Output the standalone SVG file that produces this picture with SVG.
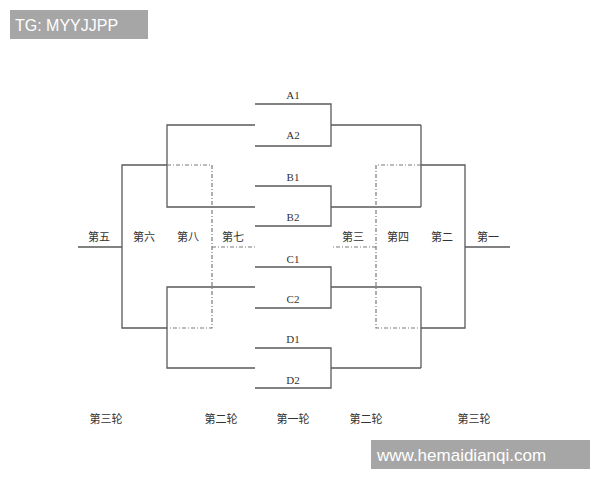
<svg xmlns="http://www.w3.org/2000/svg" width="600" height="480" viewBox="0 0 600 480">
<style>
.s{stroke:#5a5a5a;stroke-width:1.3;fill:none}
.d{stroke:#7a7a7a;stroke-width:1.2;fill:none;stroke-dasharray:4,2,1,2}
.t{font-family:"Liberation Serif","Noto Sans CJK SC",serif;font-size:11px;fill:#333;text-anchor:middle}
.c{font-family:"Noto Sans CJK SC","Liberation Serif",sans-serif;font-size:11px;fill:#333;text-anchor:middle}
.w{font-family:"Liberation Sans",Arial,sans-serif;fill:#fff}
</style>
<rect width="600" height="480" fill="#fff"/>
<g id="connectors">
<!-- first round brackets -->
<path class="s" d="M255,104H331V146H255M331,125H421"/>
<path class="s" d="M255,186H331V226H255M331,207H421"/>
<path class="s" d="M255,267H331V308H255M331,287H421"/>
<path class="s" d="M255,348H331V388H255M331,368H421"/>
<!-- left side -->
<path class="s" d="M255,125H167V207H255"/>
<path class="s" d="M255,287H167V368H255"/>
<path class="s" d="M167,165H122V328H167M122,247H78"/>
<path class="d" d="M167,165H212V328H167M212,247H255"/>
<!-- right side -->
<path class="s" d="M421,125V207M421,287V368"/>
<path class="s" d="M421,165H465V328H421M465,247H510"/>
<path class="d" d="M421,165H376V328H421M376,247H332"/>
</g>
<g id="team-labels">
<text class="t" x="293" y="99">A1</text>
<text class="t" x="293" y="139">A2</text>
<text class="t" x="293" y="181">B1</text>
<text class="t" x="293" y="221">B2</text>
<text class="t" x="293" y="263">C1</text>
<text class="t" x="293" y="303">C2</text>
<text class="t" x="293" y="343">D1</text>
<text class="t" x="293" y="384">D2</text>
</g>
<g id="place-labels">
<text class="c" x="99" y="241">第五</text>
<text class="c" x="144" y="241">第六</text>
<text class="c" x="188" y="241">第八</text>
<text class="c" x="233" y="241">第七</text>
<text class="c" x="353" y="241">第三</text>
<text class="c" x="398" y="241">第四</text>
<text class="c" x="442" y="241">第二</text>
<text class="c" x="488" y="241">第一</text>
</g>
<g id="round-labels">
<text class="c" x="106" y="423">第三轮</text>
<text class="c" x="221" y="423">第二轮</text>
<text class="c" x="293" y="423">第一轮</text>
<text class="c" x="366" y="423">第二轮</text>
<text class="c" x="474" y="423">第三轮</text>
</g>
<g id="watermark-tg">
<rect x="10" y="10" width="138" height="29" fill="#a6a6a6"/>
<text class="w" x="15" y="31" font-size="16">TG: MYYJJPP</text>
</g>
<g id="watermark-url">
<rect x="371" y="440" width="219" height="29" fill="#a6a6a6"/>
<text class="w" x="377" y="461" font-size="17">www.hemaidianqi.com</text>
</g>
</svg>
